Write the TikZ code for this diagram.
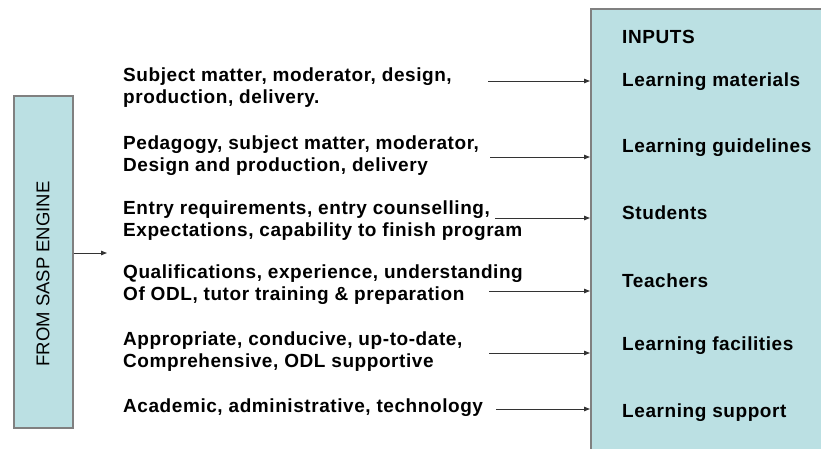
\documentclass[tikz,border=0pt]{standalone}
\usepackage{fontspec}
\setmainfont{Liberation Sans}[LetterSpace=3]
\newfontfamily\plainsans{Liberation Sans}
\usetikzlibrary{arrows.meta}
\definecolor{boxfill}{HTML}{BBE0E3}
\definecolor{boxline}{HTML}{808080}
\definecolor{arrowc}{HTML}{333333}
\tikzset{
  x=1pt, y=-1pt,
  panel/.style={draw=boxline, line width=1.6pt, fill=boxfill},
  lefttext/.style={anchor=west, align=left, inner sep=0pt, font=\fontsize{19}{22}\selectfont\bfseries},
  righttext/.style={anchor=west, inner sep=0pt, font=\fontsize{19}{22}\selectfont\bfseries},
  arr/.style={draw=arrowc, line width=1pt, -{Triangle[length=6pt,width=4.5pt]}}
}
\begin{document}
\begin{tikzpicture}
\useasboundingbox (0,0) rectangle (821,448);
\clip (0,0) rectangle (821,448);
% panels
\node[panel, minimum width=59pt, minimum height=332pt, anchor=north west, inner sep=0pt] (lbox) at (13,95) {};
\node[rotate=90, inner sep=0pt, font=\plainsans\fontsize{18.5}{22}\selectfont] (ltext) at (43,274) {FROM SASP ENGINE};
\node[panel, minimum width=260pt, minimum height=470pt, anchor=north west, inner sep=0pt] (inbox) at (590,8) {};
% left arrow
\coordinate (lend) at (107,253);
\draw[arr] (lbox.east |- lend) -- (lend);
% left texts
\node[lefttext] (t1) at (123,88) {Subject matter, moderator, design,\\production, delivery.};
\node[lefttext] (t2) at (123,155.5) {Pedagogy, subject matter, moderator,\\Design and production, delivery};
\node[lefttext] (t3) at (123,221) {Entry requirements, entry counselling,\\Expectations, capability to finish program};
\node[lefttext] (t4) at (123,285) {Qualifications, experience, understanding\\Of ODL, tutor training \& preparation};
\node[lefttext] (t5) at (123,352) {Appropriate, conducive, up-to-date,\\Comprehensive, ODL supportive};
\node[lefttext] (t6) at (123,408) {Academic, administrative, technology};
% right texts
\node[righttext] (inp) at (622,37) {INPUTS};
\node[righttext] (r1) at (622,82) {Learning materials};
\node[righttext] (r2) at (622,148) {Learning guidelines};
\node[righttext] (r3) at (622,213) {Students};
\node[righttext] (r4) at (622,281) {Teachers};
\node[righttext] (r5) at (622,346) {Learning facilities};
\node[righttext] (r6) at (622,413) {Learning support};
% arrow starts
\coordinate (s1) at (488,81);
\coordinate (s2) at (490,157);
\coordinate (s3) at (495,218);
\coordinate (s4) at (489,291);
\coordinate (s5) at (489,353);
\coordinate (s6) at (496,409);
\foreach \i in {1,...,6} {
  \draw[arr] (s\i) -- (s\i -| inbox.west);
}
\end{tikzpicture}
\end{document}
